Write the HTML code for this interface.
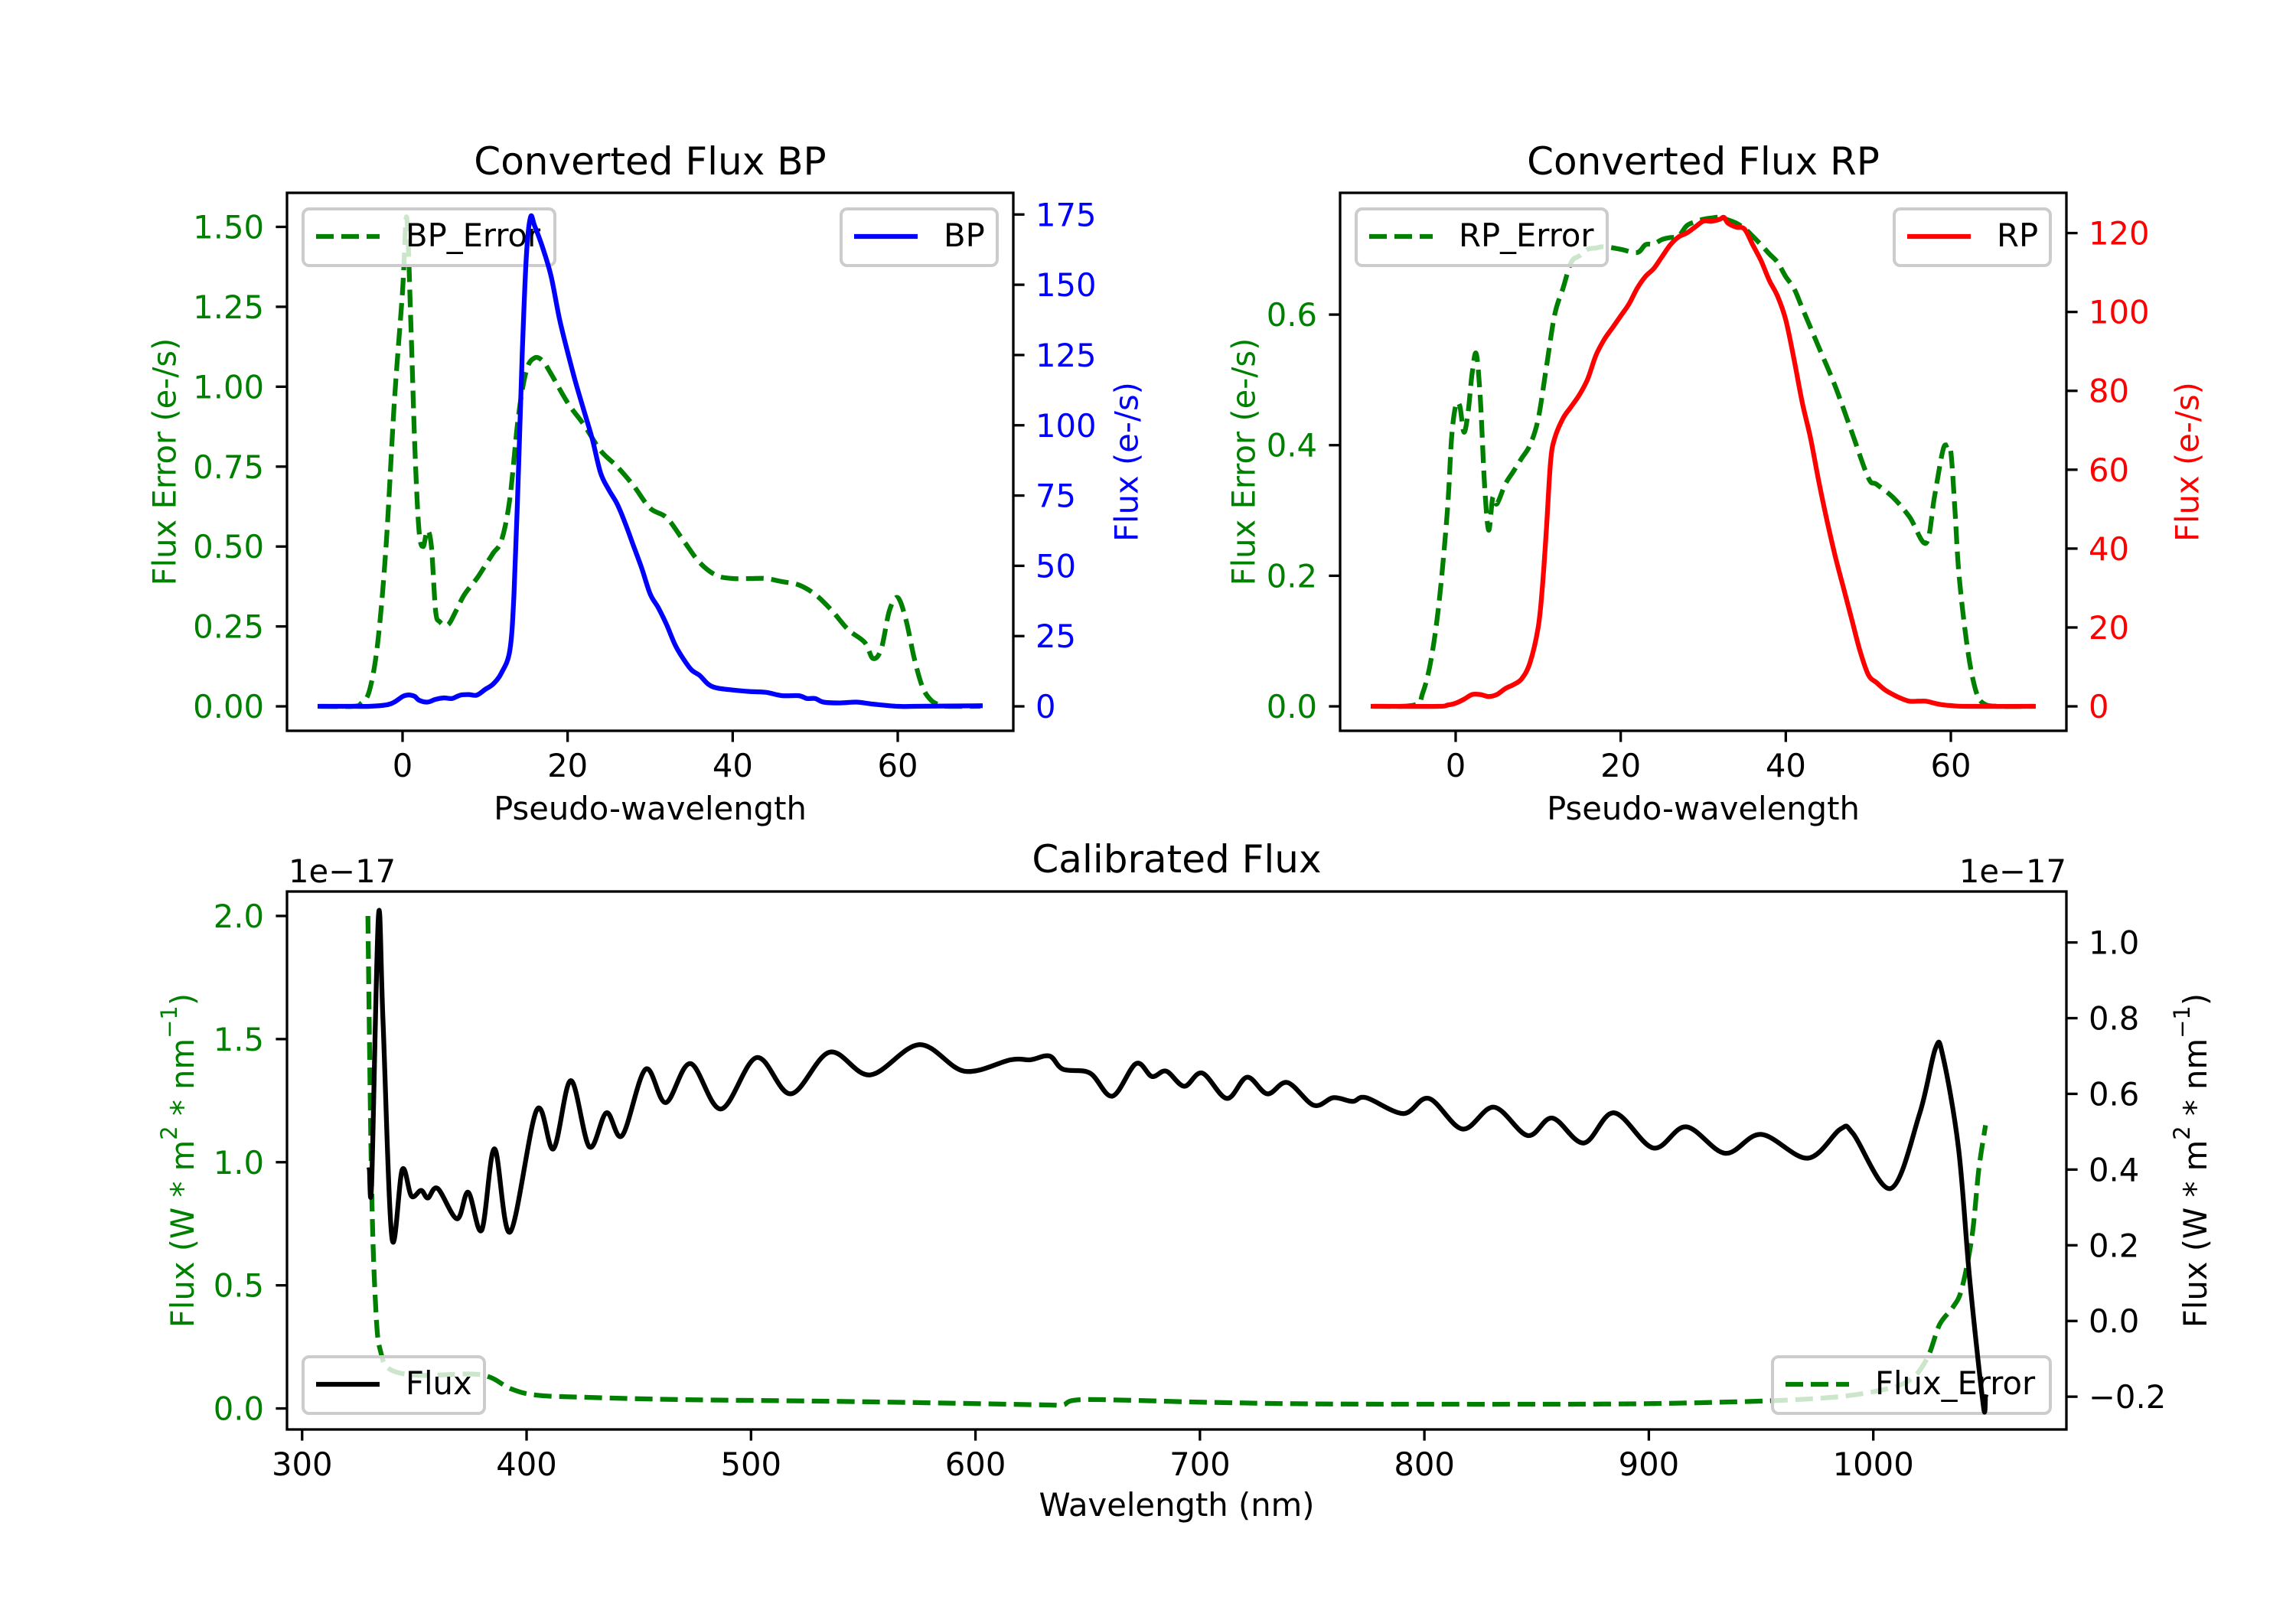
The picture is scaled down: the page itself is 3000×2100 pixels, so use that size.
<!DOCTYPE html>
<html><head><meta charset="utf-8"><title>Converted and Calibrated Flux</title>
<style>
html,body{margin:0;padding:0;background:#fff;}
svg{display:block;}
text{font-family:"DejaVu Sans","Liberation Sans",sans-serif;}
</style></head>
<body>
<svg id="fig" xmlns="http://www.w3.org/2000/svg" width="3000" height="2100" viewBox="0 0 3000 2100">
<rect x="0" y="0" width="3000" height="2100" fill="#fff"/>
</svg>
<script>
// ---------- BP data ----------
const bpErrX = [-10,-6,-5,-4,-3,-2,-1,0,0.5,1,1.5,2,2.5,3,3.5,4,4.5,5.5,6.5,7.5,9,10,11,12,13,14,15,16,17,18,20,22,24,26,28,30,32,34,36,38,40,42,44,46,48,50,52,54,56,57,58,59,60,61,62,63,64,65,66,70];
const bpErrY = [0,0,0.01,0.05,0.2,0.5,0.95,1.3,1.53,1.2,0.8,0.55,0.5,0.55,0.5,0.3,0.265,0.255,0.3,0.35,0.4,0.44,0.48,0.52,0.65,0.9,1.05,1.09,1.08,1.04,0.95,0.88,0.8,0.75,0.69,0.62,0.59,0.52,0.45,0.41,0.4,0.4,0.4,0.39,0.38,0.35,0.3,0.24,0.2,0.15,0.18,0.3,0.34,0.27,0.15,0.06,0.02,0.005,0,0];
const bpFluxX = [-10,-6,-4,-2,-1,0,0.5,1,1.5,2,3,4,5,6,7,8,9,10,11,12,13,13.5,14,14.5,15,15.5,16,17,18,19,20,21,22,23,24,25,26,27,28,29,30,31,32,33,34,35,36,37,38,40,42,44,46,48,49,50,51,53,55,57,60,62,70];
const bpFluxY = [0,0,0,0.5,1.5,3.5,4,4,3.5,2.2,1.5,2.5,3,2.8,4,4.2,4,6,8,12,20,40,80,125,160,174,171,163,153,138,126,115,105,95,83,77,72,65,57,49,40,35,29,22,17,13,11,8,6.6,5.8,5.3,5,3.8,3.8,2.8,2.8,1.5,1.2,1.5,0.8,0,0,0.2];
const bpErrTicks = [0,0.25,0.5,0.75,1.0,1.25,1.5];
const bpErrTickLabels = ["0.00","0.25","0.50","0.75","1.00","1.25","1.50"];
const bpFluxTicks = [0,25,50,75,100,125,150,175];
const bpXTicks = [0,20,40,60];
// ---------- RP data ----------
const rpErrX = [-10,-5,-4,-3,-2,-1,-0.5,0,0.5,1,1.5,2,2.5,3,3.5,4,4.5,5,6,7,8,9,10,11,12,13,14,15,16,17,18,20,22,23,24,25,26,27,28,29,30,31,32,33,34,35,36,37,38,39,40,41,42,44,46,48,50,51,53,55,57,58,59,59.5,60,60.5,61,62,63,64,66,70];
const rpErrY = [0,0.002,0.02,0.07,0.16,0.3,0.41,0.46,0.46,0.42,0.45,0.51,0.54,0.47,0.34,0.27,0.32,0.31,0.34,0.36,0.38,0.4,0.44,0.52,0.6,0.64,0.68,0.69,0.7,0.702,0.704,0.7,0.695,0.707,0.708,0.715,0.718,0.72,0.736,0.742,0.746,0.748,0.749,0.745,0.74,0.732,0.72,0.707,0.693,0.68,0.658,0.64,0.61,0.55,0.49,0.42,0.35,0.34,0.32,0.29,0.25,0.32,0.39,0.4,0.39,0.3,0.2,0.09,0.025,0.004,0,0];
const rpFluxX = [-10,-2,-1,0,1,2,3,4,5,6,7,8,9,10,10.5,11,11.5,12,13,14,15,16,17,18,19,20,21,22,23,24,25,26,27,28,29,30,31,32,32.5,33,34,35,36,37,38,39,40,41,42,43,44,45,46,47,48,49,50,51,52,53,54,55,56,57,58,59,60,62,70];
const rpFluxY = [0,0,0.3,0.8,1.8,3,3,2.5,3,4.5,5.5,7,11,20,30,45,62,68,73,76,79,83,89,93,96,99,102,106,109,111,114,117,119,120,121.5,123,123,123.5,124,122.5,121.5,121,117,113,108,104,98,88,77,68,57,47,38,30,22,14,8,6,4.2,3,2,1.3,1.3,1.3,0.8,0.4,0.2,0,0];
const rpErrTicks = [0,0.2,0.4,0.6];
const rpErrTickLabels = ["0.0","0.2","0.4","0.6"];
const rpFluxTicks = [0,20,40,60,80,100,120];
const rpXTicks = [0,20,40,60];
// ---------- Calibrated data (units 1e-17) ----------
const calFluxX = [330,331,334,336,340,344.6,348.7,353,356,360.4,369,374,380,385.7,392.7,404.5,412,419.7,428,435.6,442.6,453,462,473,486.6,502.5,517.7,535,553,575,595,615.7,624.5,633,639,651,661,671.5,678.6,685,693,701,712,721,730,739,750.7,759.5,768,774,790.6,802,817,831,846,857,871,884.5,902,916.6,934,950,970.7,985.4,991,1007.7,1020.6,1027.7,1031,1038,1043,1049,1050];
const calFluxY = [0.40,0.37,1.07,0.8,0.22,0.40,0.33,0.345,0.325,0.35,0.27,0.34,0.24,0.455,0.235,0.557,0.455,0.635,0.46,0.55,0.49,0.665,0.577,0.68,0.56,0.696,0.60,0.71,0.65,0.73,0.66,0.69,0.69,0.70,0.665,0.655,0.594,0.68,0.646,0.66,0.62,0.655,0.588,0.644,0.60,0.63,0.57,0.59,0.58,0.59,0.548,0.588,0.507,0.565,0.49,0.536,0.47,0.55,0.457,0.513,0.443,0.493,0.43,0.507,0.495,0.35,0.547,0.72,0.70,0.455,0.107,-0.222,-0.2];
const calErrX = [329.3,331,333,335,339,351.6,375,384,393,404.5,428,469,527.7,586,633,639,648,703.8,762.4,879.8,938.5,973.7,997,1015,1023.8,1029.5,1035.4,1039.4,1044,1047,1050];
const calErrY = [2.0,0.88,0.377,0.23,0.16,0.135,0.14,0.126,0.08,0.054,0.045,0.036,0.03,0.022,0.014,0.014,0.036,0.025,0.018,0.018,0.027,0.04,0.063,0.108,0.2,0.34,0.41,0.485,0.7,0.97,1.15];
const calErrTicks = [0,0.5,1.0,1.5,2.0];
const calErrTickLabels = ["0.0","0.5","1.0","1.5","2.0"];
const calFluxTicks = [-0.2,0,0.2,0.4,0.6,0.8,1.0];
const calFluxTickLabels = ["\u22120.2","0.0","0.2","0.4","0.6","0.8","1.0"];
const calXTicks = [300,400,500,600,700,800,900,1000];

const NS = "http://www.w3.org/2000/svg";
const svg = document.getElementById('fig');
const FS = 41.7, LW = 6.25, TL = 14.6, SW = 3.3;
function el(tag, attrs, parent){
  const e = document.createElementNS(NS, tag);
  for (const k in attrs) e.setAttribute(k, attrs[k]);
  (parent || svg).appendChild(e);
  return e;
}
function lims(arr){
  let mn = Math.min(...arr), mx = Math.max(...arr);
  const m = (mx - mn) * 0.05;
  return [mn - m, mx + m];
}
function scale(d0, d1, p0, p1){ return v => p0 + (v - d0) / (d1 - d0) * (p1 - p0); }
function smoothPath(xs, ys, sx, sy){
  const P = xs.map((x, i) => [sx(x), sy(ys[i])]);
  let d = "M" + P[0][0].toFixed(1) + "," + P[0][1].toFixed(1);
  for (let i = 0; i < P.length - 1; i++){
    const p0 = P[Math.max(i - 1, 0)], p1 = P[i], p2 = P[i + 1], p3 = P[Math.min(i + 2, P.length - 1)];
    const t = 0.5 / 3;
    const c1 = [p1[0] + (p2[0] - p0[0]) * t, p1[1] + (p2[1] - p0[1]) * t];
    const c2 = [p2[0] - (p3[0] - p1[0]) * t, p2[1] - (p3[1] - p1[1]) * t];
    c1[0] = Math.min(Math.max(c1[0], p1[0]), p2[0]);
    c2[0] = Math.min(Math.max(c2[0], p1[0]), p2[0]);
    d += " C" + c1[0].toFixed(1) + "," + c1[1].toFixed(1) + " " + c2[0].toFixed(1) + "," + c2[1].toFixed(1) + " " + p2[0].toFixed(1) + "," + p2[1].toFixed(1);
  }
  return d;
}
function drawLine(g, xs, ys, sx, sy, color, dashed){
  const p = el('path', {d: smoothPath(xs, ys, sx, sy), fill: 'none', stroke: color, 'stroke-width': LW,
    'stroke-linejoin': 'round', 'stroke-linecap': dashed ? 'butt' : 'square'}, g);
  if (dashed) p.setAttribute('stroke-dasharray', '23 10');
  return p;
}
function legend(g, x, y, w, label, color, dashed){
  const box = el('rect', {x: x, y: y, width: w, height: 74, rx: 8, ry: 8, fill: 'rgba(255,255,255,0.8)', stroke: '#cccccc', 'stroke-width': 4}, g);
  
  
  const h = el('line', {x1: x + 17, y1: y + 36, x2: x + 100, y2: y + 36, stroke: color, 'stroke-width': LW}, g);
  if (dashed) h.setAttribute('stroke-dasharray', '23 10');
  
  
  const t = el('text', {x: x + 134, y: y + 49, 'font-size': FS, fill: '#000'}, g);
  t.textContent = label;
  
  
}
function yTicks(g, ticks, labels, s, x, side, color){
  ticks.forEach((v, i) => {
    const y = s(v);
    const tk = el('line', {x1: x, x2: x + (side === 'left' ? -TL : TL), y1: y, y2: y, stroke: '#000', 'stroke-width': SW}, g);
    
    
    const t = el('text', {x: side === 'left' ? x - 30 : x + 29, y: y + 15, 'font-size': FS, fill: color,
      'text-anchor': side === 'left' ? 'end' : 'start'}, g);
    t.textContent = labels ? labels[i] : String(v);
    
    
  });
}
function xTicks(g, ticks, s, y){
  ticks.forEach(v => {
    const x = s(v);
    const tk = el('line', {x1: x, x2: x, y1: y, y2: y + TL, stroke: '#000', 'stroke-width': SW}, g);
    
    
    const t = el('text', {x: x, y: y + 60, 'font-size': FS, fill: '#000', 'text-anchor': 'middle'}, g);
    t.textContent = String(v);
    
    
  });
}
function vLabel(g, cx, cy, txt, color){
  const t = el('text', {x: cx, y: cy, 'font-size': FS, fill: color, 'text-anchor': 'middle',
    transform: 'rotate(-90 ' + cx + ' ' + cy + ')', 'dominant-baseline': 'central'}, g);
  t.textContent = txt;
  return t;
}
function frame(g, A){
  const r = el('rect', {x: A.x0, y: A.y0, width: A.x1 - A.x0, height: A.y1 - A.y0, fill: 'none', stroke: '#000', 'stroke-width': SW}, g);
  
  
}

// ================= BP panel =================
(function(){
  const A = {x0: 375, x1: 1324, y0: 252, y1: 955};
  const g = el('g', {});
  
  
  const xl = lims(bpErrX.concat(bpFluxX));
  const sx = scale(xl[0], xl[1], A.x0, A.x1);
  const yl = lims(bpErrY), yr = lims(bpFluxY);
  const syL = scale(yl[0], yl[1], A.y1, A.y0), syR = scale(yr[0], yr[1], A.y1, A.y0);
  const eLine = drawLine(g, bpErrX, bpErrY, sx, syL, '#008000', true);
  
  
  legend(g, A.x0 + 21, A.y0 + 21, 329, 'BP_Error', '#008000', true);
  legend(g, A.x1 - 21 - 204, A.y0 + 21, 204, 'BP', '#0000ff', false);
  const fLine = drawLine(g, bpFluxX, bpFluxY, sx, syR, '#0000ff', false);
  
  
  frame(g, A);
  yTicks(g, bpErrTicks, bpErrTickLabels, syL, A.x0, 'left', '#008000');
  yTicks(g, bpFluxTicks, null, syR, A.x1, 'right', '#0000ff');
  xTicks(g, bpXTicks, sx, A.y1);
  const t = el('text', {x: (A.x0 + A.x1) / 2, y: 228, 'font-size': 50, 'text-anchor': 'middle', fill: '#000'}, g);
  t.textContent = 'Converted Flux BP';
  
  
  const xlab = el('text', {x: (A.x0 + A.x1) / 2, y: 1071, 'font-size': FS, 'text-anchor': 'middle', fill: '#000'}, g);
  xlab.textContent = 'Pseudo-wavelength';
  
  
  const l1 = vLabel(g, 215, (A.y0 + A.y1) / 2, 'Flux Error (e-/s)', '#008000');
  
  
  const l2 = vLabel(g, 1472, (A.y0 + A.y1) / 2, 'Flux (e-/s)', '#0000ff');
  
  
})();

// ================= RP panel =================
(function(){
  const A = {x0: 1751, x1: 2700, y0: 252, y1: 955};
  const g = el('g', {});
  
  
  const xl = lims(rpErrX.concat(rpFluxX));
  const sx = scale(xl[0], xl[1], A.x0, A.x1);
  const yl = lims(rpErrY), yr = lims(rpFluxY);
  const syL = scale(yl[0], yl[1], A.y1, A.y0), syR = scale(yr[0], yr[1], A.y1, A.y0);
  const eLine = drawLine(g, rpErrX, rpErrY, sx, syL, '#008000', true);
  
  
  legend(g, A.x0 + 21, A.y0 + 21, 328, 'RP_Error', '#008000', true);
  legend(g, A.x1 - 21 - 204, A.y0 + 21, 204, 'RP', '#ff0000', false);
  const fLine = drawLine(g, rpFluxX, rpFluxY, sx, syR, '#ff0000', false);
  
  
  frame(g, A);
  yTicks(g, rpErrTicks, rpErrTickLabels, syL, A.x0, 'left', '#008000');
  yTicks(g, rpFluxTicks, null, syR, A.x1, 'right', '#ff0000');
  xTicks(g, rpXTicks, sx, A.y1);
  const t = el('text', {x: (A.x0 + A.x1) / 2, y: 228, 'font-size': 50, 'text-anchor': 'middle', fill: '#000'}, g);
  t.textContent = 'Converted Flux RP';
  
  
  const xlab = el('text', {x: (A.x0 + A.x1) / 2, y: 1071, 'font-size': FS, 'text-anchor': 'middle', fill: '#000'}, g);
  xlab.textContent = 'Pseudo-wavelength';
  
  
  const l1 = vLabel(g, 1625, (A.y0 + A.y1) / 2, 'Flux Error (e-/s)', '#008000');
  
  
  const l2 = vLabel(g, 2858, (A.y0 + A.y1) / 2, 'Flux (e-/s)', '#ff0000');
  
  
})();

// ================= Calibrated panel =================
(function(){
  const A = {x0: 375, x1: 2700, y0: 1165, y1: 1868};
  const g = el('g', {});
  
  
  const xl = lims(calErrX.concat(calFluxX));
  const sx = scale(xl[0], xl[1], A.x0, A.x1);
  const yl = lims(calErrY), yr = lims(calFluxY);
  const syL = scale(yl[0], yl[1], A.y1, A.y0), syR = scale(yr[0], yr[1], A.y1, A.y0);
  const eLine = drawLine(g, calErrX, calErrY, sx, syL, '#008000', true);
  
  
  legend(g, A.x0 + 21, A.y1 - 21 - 74, 237, 'Flux', '#000000', false);
  legend(g, A.x1 - 21 - 363, A.y1 - 21 - 74, 363, 'Flux_Error', '#008000', true);
  const fLine = drawLine(g, calFluxX, calFluxY, sx, syR, '#000000', false);
  
  
  frame(g, A);
  yTicks(g, calErrTicks, calErrTickLabels, syL, A.x0, 'left', '#008000');
  yTicks(g, calFluxTicks, calFluxTickLabels, syR, A.x1, 'right', '#000');
  xTicks(g, calXTicks, sx, A.y1);
  const t = el('text', {x: (A.x0 + A.x1) / 2, y: 1140, 'font-size': 50, 'text-anchor': 'middle', fill: '#000'}, g);
  t.textContent = 'Calibrated Flux';
  
  
  const o1 = el('text', {x: A.x0 + 2, y: 1153, 'font-size': FS, fill: '#000'}, g);
  o1.textContent = '1e\u221217';
  
  
  const o2 = el('text', {x: A.x1, y: 1153, 'font-size': FS, fill: '#000', 'text-anchor': 'end'}, g);
  o2.textContent = '1e\u221217';
  
  
  const xlab = el('text', {x: (A.x0 + A.x1) / 2, y: 1981, 'font-size': FS, 'text-anchor': 'middle', fill: '#000'}, g);
  xlab.textContent = 'Wavelength (nm)';
  
  
  function unitLabel(cx, color, name){
    const cy = (A.y0 + A.y1) / 2;
    const t = el('text', {x: cx, y: cy, 'font-size': FS, fill: color, 'text-anchor': 'middle',
      transform: 'rotate(-90 ' + cx + ' ' + cy + ')', 'dominant-baseline': 'central'}, g);
    
    
    const parts = [['Flux (W * m', 0], ['2', 1], [' * nm', 0], ['\u22121', 1], [')', 0]];
    parts.forEach(p => {
      const s = el('tspan', {}, t);
      s.textContent = p[0];
      if (p[1]) { s.setAttribute('baseline-shift', 'super'); s.setAttribute('font-size', '29'); }
    });
  }
  unitLabel(238, '#008000', 'left-y-axis-title');
  unitLabel(2868, '#000', 'right-y-axis-title');
})();
</script>
</body></html>
